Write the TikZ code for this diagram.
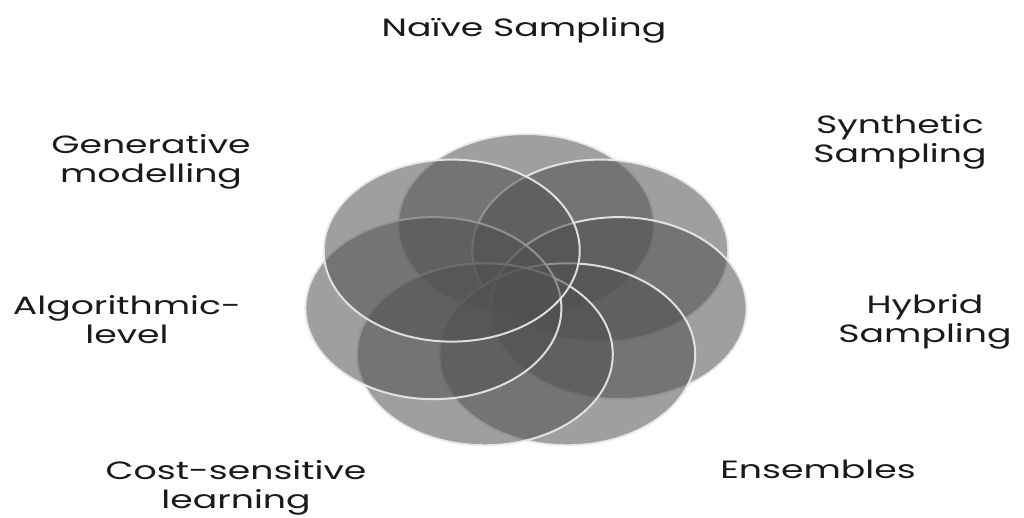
\documentclass[tikz,border=0pt]{standalone}
\usepackage{fontspec}
\setmainfont{Poppins}
\definecolor{petal}{RGB}{81,81,81}
\definecolor{rimc}{RGB}{236,236,236}
\definecolor{txt}{RGB}{26,26,26}
\begin{document}
\begin{tikzpicture}[x=1pt,y=-1pt,
  petalstyle/.style={fill=petal, fill opacity=0.55, draw=rimc, draw opacity=0.9, line width=2pt},
  lbl/.style={font=\fontsize{25}{29}\selectfont, text=txt, align=center, inner sep=0pt, anchor=base, xscale=1.45, transform shape}]
\useasboundingbox (0,0) rectangle (1024,517);
\fill[white] (0,0) rectangle (1024,517);
\foreach \i/\ang in {1/90,2/38.571,3/-12.857,4/-64.286,5/-115.714,6/-167.143,7/141.429}{
  \coordinate (c\i) at ({526+95*cos(\ang)},{293-68*sin(\ang)});
}
\foreach \i in {1,...,7}{
  \path[petalstyle] (c\i) ellipse [x radius=128pt, y radius=91pt];
}
\node[lbl] (naive) at (524,36) {Naïve Sampling};
\node[lbl] (synth) at (900,162) {Synthetic\\Sampling};
\node[lbl] (hybrid) at (925,342) {Hybrid\\Sampling};
\node[lbl] (ens) at (818,478) {Ensembles};
\node[lbl] (cost) at (236,508) {Cost-sensitive\\learning};
\node[lbl] (algo) at (127,343) {Algorithmic-\\level};
\node[lbl] (gen) at (151,182) {Generative\\modelling};
\end{tikzpicture}
\end{document}
